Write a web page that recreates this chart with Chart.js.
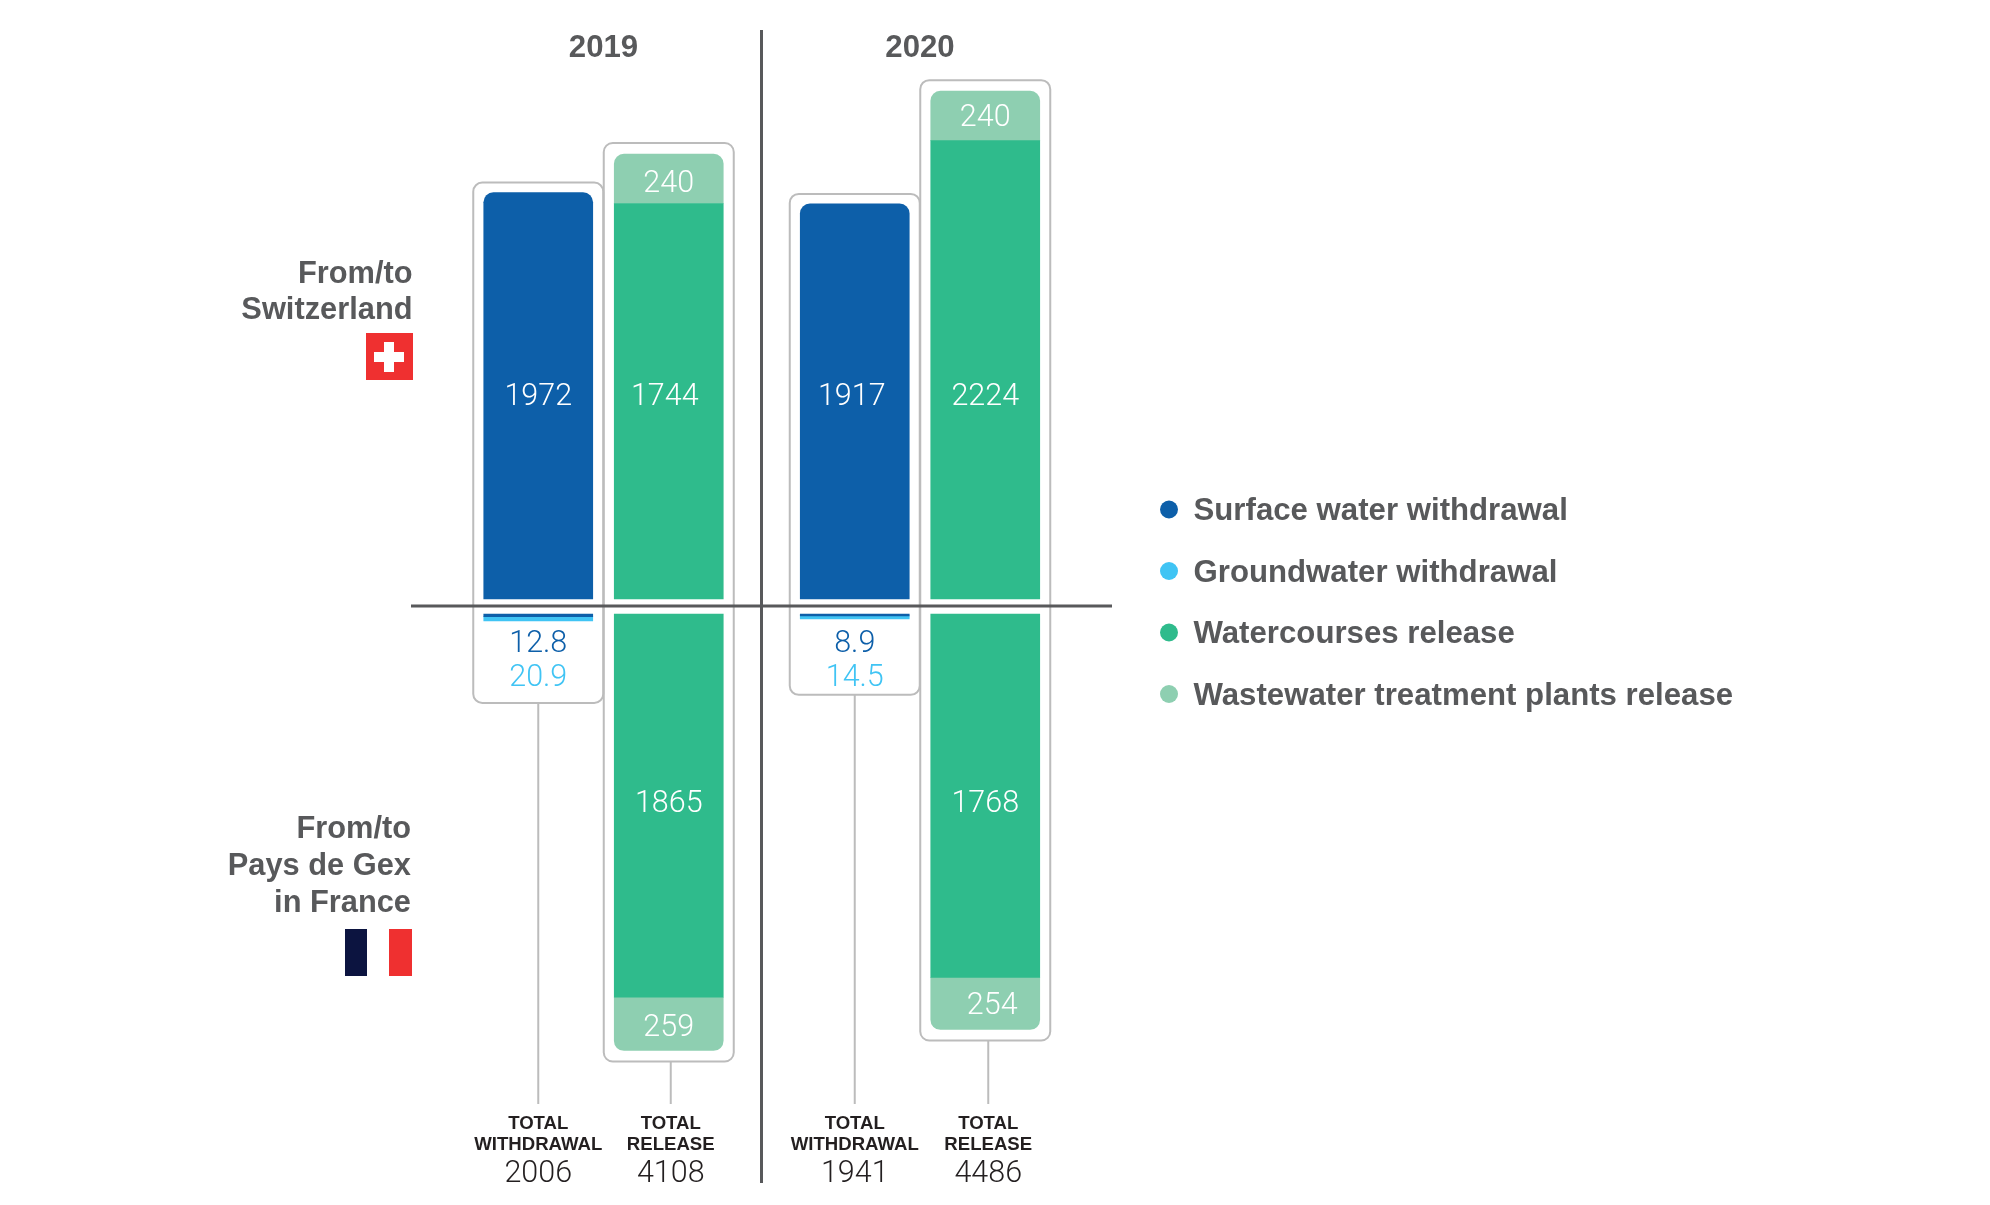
<!DOCTYPE html>
<html>
<head>
<meta charset="utf-8">
<title>Water withdrawal and release</title>
<script src="https://cdn.jsdelivr.net/npm/chart.js@4"></script>
<style>
    html, body { margin: 0; padding: 0; background: #fff; }
    canvas { display: block; }
</style>
</head>
<body>
<canvas id="myChart" width="1990" height="1205"></canvas>
<script>
const years = ['2019', '2020'];

// upper half: from/to Switzerland
const surfaceUp = [1972, 1917];
const watercoursesUp = [1744, 2224];
const wastewaterUp = [240, 240];
// the source draws its 1744 bar as tall as the 1917 one, so the bar height is kept apart from the printed value
const watercoursesUpDrawn = [1919, 2224];

// lower half: from/to Pays de Gex in France
const surfaceDown = [12.8, 8.9];
const groundDown = [20.9, 14.5];
const watercoursesDown = [1865, 1768];
const wastewaterDown = [259, 254];

const totalWithdrawal = [2006, 1941];
const totalRelease = [4108, 4486];

const legendLabels = [
    'Surface water withdrawal',
    'Groundwater withdrawal',
    'Watercourses release',
    'Wastewater treatment plants release',
];

const BLUE = '#0d5fa9';
const SKY = '#40c4f4';
const GREEN = '#2fbb8c';
const PALE = '#8ecfb1';
const GREY = '#58595b';
const FRAME = '#bcbcbc';
const legendColors = [BLUE, SKY, GREEN, PALE];

const BOLD = 'bold 31.2px "Liberation Sans"';
const ROW = 'bold 30.8px "Liberation Sans"';
const LIGHT = '300 30.5px Roboto';
const SMALL = 'bold 18.6px "Liberation Sans"';

const R = 10;
const roundTop = { topLeft: R, topRight: R, bottomLeft: 0, bottomRight: 0 };
const roundBottom = { topLeft: 0, topRight: 0, bottomLeft: R, bottomRight: R };

function text(c, str, x, y, font, color, align) {
    c.font = font;
    c.fillStyle = color;
    c.textAlign = align || 'center';
    c.textBaseline = 'middle';
    c.fillText(str, x, y);
}

function frame(c, left, top, right, bottom) {
    c.beginPath();
    c.roundRect(left, top, right - left, bottom - top, 9);
    c.lineWidth = 2;
    c.strokeStyle = FRAME;
    c.stroke();
}

function line(c, x1, y1, x2, y2, color, width) {
    c.beginPath();
    c.moveTo(x1, y1);
    c.lineTo(x2, y2);
    c.lineWidth = width;
    c.strokeStyle = color;
    c.stroke();
}

// frames, leader lines and the two dividing axes sit behind the bars
const backdrop = {
    id: 'backdrop',
    beforeDatasetsDraw(chart) {
        const c = chart.ctx;
        const up = chart.scales.yUp;
        const extraBelow = [82, 76];
        const leaderNudge = [2, 3];
        c.save();
        years.forEach((y, i) => {
            const sTop = chart.getDatasetMeta(0).data[i];
            const wTop = chart.getDatasetMeta(2).data[i];
            const gBottom = chart.getDatasetMeta(4).data[i];
            const wBottom = chart.getDatasetMeta(6).data[i];

            line(c, sTop.x, gBottom.y + extraBelow[i], sTop.x, 1104, FRAME, 2);
            line(c, wTop.x + leaderNudge[i], wBottom.y + 11, wTop.x + leaderNudge[i], 1104, FRAME, 2);

            frame(c, wTop.x - 65, wTop.y - 11, wTop.x + 65, wBottom.y + 11);
            frame(c, sTop.x - 65, sTop.y - 10, sTop.x + 65, gBottom.y + extraBelow[i]);
        });
        const axisY = up.getPixelForValue(0) + 7;
        line(c, 411, axisY, 1112, axisY, GREY, 3);
        line(c, 761.5, 30, 761.5, 1183, GREY, 3);
        c.restore();
    }
};

// printed values, row labels, flags, legend and totals
const annotations = {
    id: 'annotations',
    afterDatasetsDraw(chart) {
        const c = chart.ctx;
        const up = chart.scales.yUp;
        const down = chart.scales.yDown;
        c.save();

        const midUp = up.getPixelForValue(976);
        const midDown = down.getPixelForValue(924);
        years.forEach((y, i) => {
            const sX = chart.getDatasetMeta(0).data[i].x;
            const rX = chart.getDatasetMeta(1).data[i].x;
            const wTop = chart.getDatasetMeta(2).data[i].getCenterPoint();
            const wBottom = chart.getDatasetMeta(6).data[i].getCenterPoint();

            text(c, String(surfaceUp[i]), sX + [0, -3][i], midUp, LIGHT, '#fff');
            text(c, String(watercoursesUp[i]), rX + [-4, 0][i], midUp, LIGHT, '#fff');
            text(c, String(wastewaterUp[i]), wTop.x, wTop.y + [5.5, 2.5][i], LIGHT, '#fff');
            text(c, String(watercoursesDown[i]), rX, midDown, LIGHT, '#fff');
            text(c, String(wastewaterDown[i]), wBottom.x + [0, 7][i], wBottom.y + [5, 2.5][i], LIGHT, '#fff');

            text(c, String(surfaceDown[i]), sX, 644.5, LIGHT, BLUE);
            text(c, String(groundDown[i]), sX, 678.5, LIGHT, SKY);

            text(c, 'TOTAL', sX, 1124, SMALL, '#231f20');
            text(c, 'WITHDRAWAL', sX, 1145, SMALL, '#231f20');
            text(c, String(totalWithdrawal[i]), sX, 1174, LIGHT, '#231f20');

            const tX = rX + [2, 3][i];
            text(c, 'TOTAL', tX, 1124, SMALL, '#231f20');
            text(c, 'RELEASE', tX, 1145, SMALL, '#231f20');
            text(c, String(totalRelease[i]), tX, 1174, LIGHT, '#231f20');

            text(c, y, (sX + rX) / 2, 48.5, BOLD, GREY);
        });

        text(c, 'From/to', 412.5, 274.5, ROW, GREY, 'right');
        text(c, 'Switzerland', 412.5, 310.5, ROW, GREY, 'right');
        c.fillStyle = '#ef3030';
        c.fillRect(366, 333, 47, 47);
        c.fillStyle = '#fff';
        c.fillRect(374, 352, 30, 10);
        c.fillRect(384, 342, 10, 30);

        text(c, 'From/to', 411, 829.5, ROW, GREY, 'right');
        text(c, 'Pays de Gex', 411, 866.5, ROW, GREY, 'right');
        text(c, 'in France', 411, 903.5, ROW, GREY, 'right');
        c.fillStyle = '#0c1440';
        c.fillRect(345, 929, 22, 47);
        c.fillStyle = '#ef3030';
        c.fillRect(389, 929, 23, 47);

        legendLabels.forEach((label, i) => {
            const y = 509.5 + i * 61.5;
            c.beginPath();
            c.arc(1169, y, 9, 0, Math.PI * 2);
            c.fillStyle = legendColors[i];
            c.fill();
            text(c, label, 1193.5, y + 2, BOLD, GREY, 'left');
        });
        c.restore();
    }
};

const ctx = document.getElementById('myChart');

let ch = new Chart(ctx, {
    type: 'bar',
    data: {
        labels: years,
        datasets: [
            { label: legendLabels[0], data: surfaceUp, stack: 'withdrawal', yAxisID: 'yUp', backgroundColor: BLUE, borderRadius: roundTop },
            { label: legendLabels[2], data: watercoursesUpDrawn, stack: 'release', yAxisID: 'yUp', backgroundColor: GREEN },
            { label: legendLabels[3], data: wastewaterUp, stack: 'release', yAxisID: 'yUp', backgroundColor: PALE, borderRadius: roundTop },
            { label: legendLabels[0], data: surfaceDown, stack: 'withdrawal', yAxisID: 'yDown', backgroundColor: BLUE },
            { label: legendLabels[1], data: groundDown, stack: 'withdrawal', yAxisID: 'yDown', backgroundColor: SKY },
            { label: legendLabels[2], data: watercoursesDown, stack: 'release', yAxisID: 'yDown', backgroundColor: GREEN },
            { label: legendLabels[3], data: wastewaterDown, stack: 'release', yAxisID: 'yDown', backgroundColor: PALE, borderRadius: roundBottom },
        ]
    },
    options: {
        responsive: false,
        animation: false,
        borderSkipped: false,
        barThickness: 130.5,
        maxBarThickness: 109,
        layout: {
            padding: { left: 445.25, right: 911.75, top: 80, bottom: 95 }
        },
        plugins: {
            legend: { display: false },
            title: { display: false },
            tooltip: { enabled: false }
        },
        scales: {
            x: { display: false, stacked: true },
            yUp: { display: false, stacked: true, min: -2479.4, max: 2518.2 },
            yDown: { display: false, stacked: true, reverse: true, min: -2598.5, max: 2413.6 }
        }
    },
    plugins: [backdrop, annotations]
});
</script>
</body>
</html>
